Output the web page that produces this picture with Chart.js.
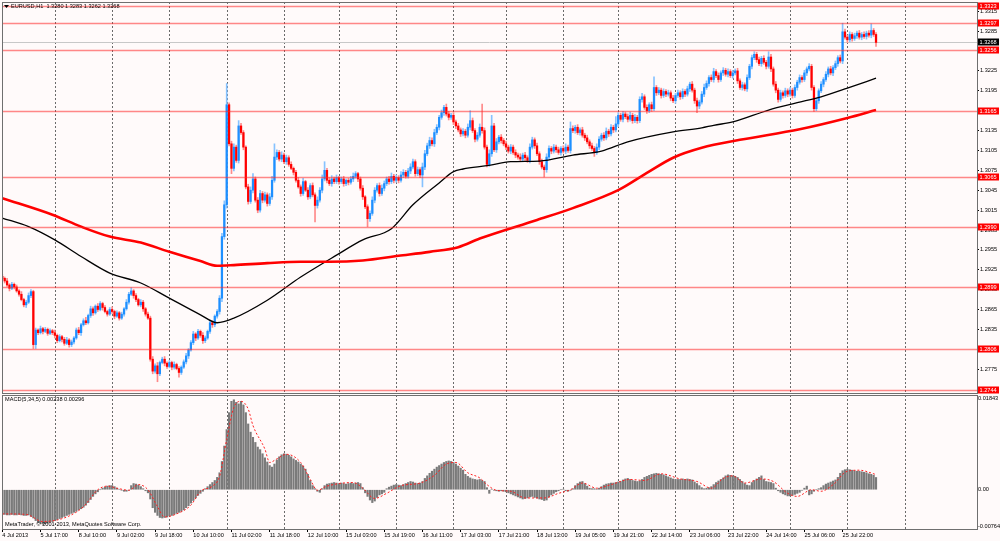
<!DOCTYPE html>
<html>
<head>
<meta charset="utf-8">
<title>EURUSD,H1</title>
<script src="https://cdn.jsdelivr.net/npm/chart.js@4.4.0/dist/chart.umd.min.js"></script>
<style>
  html, body { margin: 0; padding: 0; background: #fffafa; }
  #wrap { position: relative; width: 1000px; height: 541px; overflow: hidden; background: #fffafa; }
  #priceBox { position: absolute; left: 0; top: 0; width: 1000px; height: 394px; }
  #macdBox { position: absolute; left: 0; top: 393px; width: 1000px; height: 148px; }
</style>
</head>
<body>
<div id="wrap">
  <div id="priceBox"><canvas id="price" width="1000" height="394"></canvas></div>
  <div id="macdBox"><canvas id="macd" width="1000" height="148"></canvas></div>
</div>
<script>
// ---- data (H1 bars, 4 Jul - 26 Jul 2013) ----
const firstOpen = 1.2915;
const closes = [
  1.2912,1.2908,1.2902,1.2897,1.2903,1.2899,1.2893,1.2888,1.2880,1.2872,
  1.2876,1.2886,1.2892,1.2812,1.2834,1.2830,1.2836,1.2832,1.2835,1.2829,
  1.2833,1.2830,1.2826,1.2818,1.2824,1.2820,1.2814,1.2819,1.2812,1.2816,
  1.2822,1.2834,1.2830,1.2842,1.2848,1.2845,1.2856,1.2866,1.2860,1.2870,
  1.2865,1.2874,1.2868,1.2862,1.2858,1.2865,1.2862,1.2855,1.2860,1.2852,
  1.2858,1.2866,1.2876,1.2888,1.2893,1.2886,1.2880,1.2872,1.2876,1.2866,
  1.2858,1.2852,1.2790,1.2772,1.2780,1.2768,1.2785,1.2790,1.2784,1.2779,
  1.2785,1.2778,1.2782,1.2776,1.2770,1.2778,1.2786,1.2795,1.2804,1.2815,
  1.2828,1.2822,1.2832,1.2826,1.2818,1.2822,1.2832,1.2845,1.2842,1.2855,
  1.2862,1.2882,1.2975,1.3023,1.3174,1.3115,1.3078,1.3110,1.3090,1.3142,
  1.3132,1.3110,1.3050,1.3028,1.3045,1.3062,1.3030,1.3015,1.3040,1.3030,
  1.3038,1.3025,1.3035,1.3060,1.3095,1.3102,1.3092,1.3098,1.3088,1.3094,
  1.3084,1.3078,1.3072,1.3060,1.3050,1.3040,1.3058,1.3045,1.3035,1.3052,
  1.3038,1.3022,1.3030,1.3045,1.3062,1.3075,1.3060,1.3055,1.3062,1.3058,
  1.3064,1.3058,1.3062,1.3055,1.3060,1.3057,1.3062,1.3066,1.3070,1.3062,
  1.3048,1.3035,1.3020,1.3002,1.3010,1.3030,1.3045,1.3052,1.3040,1.3048,
  1.3055,1.3062,1.3058,1.3066,1.3060,1.3064,1.3060,1.3068,1.3072,1.3066,
  1.3074,1.3080,1.3088,1.3070,1.3076,1.3068,1.3080,1.3100,1.3112,1.3120,
  1.3115,1.3132,1.3140,1.3155,1.3162,1.3170,1.3160,1.3155,1.3158,1.3148,
  1.3142,1.3136,1.3130,1.3134,1.3128,1.3140,1.3150,1.3135,1.3122,1.3128,
  1.3140,1.3135,1.3110,1.3084,1.3100,1.3142,1.3106,1.3118,1.3125,1.3120,
  1.3115,1.3110,1.3104,1.3110,1.3102,1.3098,1.3095,1.3092,1.3098,1.3094,
  1.3090,1.3110,1.3121,1.3112,1.3100,1.3088,1.3080,1.3076,1.3095,1.3108,
  1.3104,1.3110,1.3106,1.3102,1.3108,1.3104,1.3110,1.3105,1.3138,1.3135,
  1.3140,1.3132,1.3136,1.3128,1.3124,1.3118,1.3112,1.3108,1.3102,1.3110,
  1.3122,1.3128,1.3124,1.3134,1.3130,1.3140,1.3136,1.3145,1.3158,1.3152,
  1.3160,1.3156,1.3152,1.3158,1.3150,1.3155,1.3150,1.3182,1.3186,1.3170,
  1.3165,1.3174,1.3168,1.3200,1.3192,1.3196,1.3188,1.3194,1.3190,1.3192,
  1.3184,1.3180,1.3188,1.3192,1.3186,1.3194,1.3190,1.3198,1.3205,1.3196,
  1.3180,1.3172,1.3178,1.3190,1.3200,1.3206,1.3215,1.3212,1.3224,1.3218,
  1.3212,1.3222,1.3226,1.3220,1.3224,1.3218,1.3222,1.3225,1.3210,1.3200,
  1.3204,1.3198,1.3215,1.3232,1.3245,1.3250,1.3242,1.3236,1.3244,1.3238,
  1.3232,1.3246,1.3228,1.3205,1.3196,1.3182,1.3192,1.3188,1.3195,1.3190,
  1.3196,1.3188,1.3200,1.3208,1.3215,1.3212,1.3222,1.3228,1.3232,1.3200,
  1.3168,1.3180,1.3195,1.3205,1.3212,1.3220,1.3228,1.3222,1.3230,1.3236,
  1.3245,1.3240,1.3284,1.3276,1.3272,1.3280,1.3274,1.3278,1.3282,1.3276,
  1.3280,1.3277,1.3282,1.3279,1.3286,1.3280,1.3268
];
// wick lengths above / below the body, in pips
const wickUp = [
  3,2,4,2,3,2,3,2,4,2, 3,4,3,2,3,2,4,2,3,2, 3,2,4,2,3,2,3,4,2,3, 2,3,4,2,3,5,2,4,3,2,
  4,3,2,3,2,3,4,2,3,2, 3,2,4,3,5,2,3,2,4,3, 2,3,3,4,3,5,2,3,4,2, 3,2,4,2,3,2,3,4,2,3,
  4,2,3,2,4,3,2,4,3,2, 3,4,5,6,32,3,4,5,3,8, 4,3,2,4,5,8,3,4,5,3, 4,3,5,6,20,4,3,5,3,4,
  3,4,2,3,4,3,5,2,4,3, 4,3,5,4,6,13,3,4,5,3, 4,2,3,4,2,3,4,5,3,2, 3,4,2,3,4,5,4,3,4,5,
  4,3,4,5,3,4,3,5,4,3, 4,5,4,3,4,3,6,5,4,5, 4,5,4,3,4,3,5,4,3,4, 3,4,3,4,3,5,15,4,3,4,
  5,35,4,3,6,16,4,5,3,4, 3,4,3,4,3,4,3,5,3,4, 3,5,4,3,4,3,4,3,5,4, 3,4,3,4,3,4,5,3,10,4,
  3,4,3,4,3,4,3,4,3,5, 4,3,4,5,3,4,3,11,4,3, 4,3,4,5,3,4,3,4,5,3, 4,3,4,16,3,4,3,4,3,4,
  3,4,3,4,3,4,3,4,3,4, 3,4,3,4,5,4,3,4,5,3, 4,3,4,3,4,3,4,3,4,3, 4,3,4,3,4,4,3,4,3,4,
  3,8,4,3,4,3,4,3,4,3, 4,3,4,3,4,3,4,3,4,3, 3,4,3,4,3,4,3,4,3,4, 3,4,13,4,3,4,3,4,3,4,
  3,4,3,4,10,3,3
];
const wickDn = [
  2,3,2,4,2,3,2,3,2,3, 4,2,3,6,6,3,2,4,2,3, 2,3,4,3,2,4,3,2,4,3, 3,2,3,4,2,3,2,3,4,2,
  3,2,4,2,3,2,3,4,2,3, 2,3,2,3,2,4,3,2,3,4, 3,2,3,4,3,12,3,2,4,3, 2,4,3,2,7,3,2,3,4,2,
  3,4,2,3,4,3,2,3,4,3, 3,4,5,4,5,3,8,4,3,4, 3,4,3,4,3,4,3,4,3,4, 3,4,3,4,3,4,3,4,3,4,
  3,2,4,3,2,4,3,2,4,3, 3,25,4,3,4,3,4,3,4,3, 3,4,3,4,3,4,3,4,3,4, 3,4,3,12,4,3,4,3,4,3,
  4,3,4,3,4,3,4,3,4,3, 3,4,3,4,3,4,18,4,3,4, 3,4,3,4,3,4,3,4,3,4, 4,3,4,3,4,3,4,3,4,3,
  3,4,3,4,3,4,3,4,3,4, 3,4,3,4,3,4,3,4,3,4, 3,4,3,4,3,4,3,11,4,3, 4,3,4,3,4,3,4,3,4,3,
  4,3,4,3,4,3,4,3,6,3, 4,3,4,3,4,3,4,3,4,3, 4,3,4,3,4,3,4,3,4,3, 4,3,4,3,4,3,4,3,4,3,
  4,3,4,3,4,3,4,3,4,3, 4,10,4,3,4,3,4,3,4,3, 4,3,4,3,4,3,4,3,4,3, 4,3,4,3,4,3,4,3,4,3,
  4,3,4,3,4,4,3,4,3,4, 3,4,3,4,3,4,3,4,3,4, 4,3,4,3,4,3,4,3,4,3, 4,3,4,3,4,3,4,3,4,3,
  4,3,4,3,4,3,6
];

// moving averages (bar index, price)
const maFastBars   = [0, 11, 22, 33, 45, 58, 69, 83, 90, 97, 111, 125, 140, 151, 163, 172, 183, 189, 193, 203, 213, 225, 239, 251, 262, 281, 293, 298, 306, 321, 333, 343, 354, 366];
const maFastValues = [1.3003, 1.2990, 1.2970, 1.2945, 1.2920, 1.2905, 1.2884, 1.2857, 1.2845, 1.2852, 1.2879, 1.2914, 1.2947, 1.2970, 1.2987, 1.3023, 1.3056, 1.3073, 1.3077, 1.3082, 1.3088, 1.3089, 1.3098, 1.3104, 1.3118, 1.3133, 1.3139, 1.3143, 1.3148, 1.3166, 1.3177, 1.3186, 1.3199, 1.3214];
const maSlowBars   = [0, 21, 33, 45, 58, 70, 83, 90, 97, 111, 125, 137, 151, 166, 179, 191, 200, 224, 239, 258, 270, 281, 293, 309, 334, 354, 366];
const maSlowValues = [1.3033, 1.3008, 1.2990, 1.2975, 1.2966, 1.2952, 1.2938, 1.2931, 1.2932, 1.2935, 1.2937, 1.2937, 1.2939, 1.2946, 1.2952, 1.2959, 1.2972, 1.3000, 1.3018, 1.3045, 1.3071, 1.3094, 1.3109, 1.3121, 1.3137, 1.3154, 1.3166];

// MACD(5,34,5) main histogram, one value per bar
const macd = [
  -0.0048,-0.0048,-0.0049,-0.0049,-0.0048,-0.0049,-0.0049,-0.0048,-0.0049,-0.0050,
  -0.0050,-0.0049,-0.0052,-0.0055,-0.0060,-0.0064,-0.0066,-0.0067,-0.0066,-0.0065,
  -0.0063,-0.0062,-0.0060,-0.0058,-0.0056,-0.0054,-0.0052,-0.0050,-0.0048,-0.0046,
  -0.0044,-0.0042,-0.0039,-0.0037,-0.0034,-0.0030,-0.0025,-0.0019,-0.0013,-0.0008,
  -0.0004,0.0000,0.0003,0.0005,0.0007,0.0008,0.0008,0.0006,0.0003,0.0001,
  -0.0001,-0.0003,-0.0003,-0.0001,0.0008,0.0012,0.0011,0.0009,0.0006,0.0002,
  -0.0002,-0.0006,-0.0018,-0.0035,-0.0044,-0.0050,-0.0054,-0.0055,-0.0054,-0.0053,
  -0.0051,-0.0050,-0.0048,-0.0046,-0.0044,-0.0042,-0.0039,-0.0035,-0.0031,-0.0026,
  -0.0021,-0.0016,-0.0011,-0.0007,-0.0003,0.0002,0.0006,0.0010,0.0014,0.0018,
  0.0024,0.0033,0.0055,0.0085,0.0117,0.0150,0.0172,0.0175,0.0170,0.0167,
  0.0172,0.0165,0.0150,0.0128,0.0112,0.0102,0.0092,0.0083,0.0078,0.0070,
  0.0062,0.0054,0.0047,0.0044,0.0050,0.0058,0.0064,0.0068,0.0070,0.0069,
  0.0067,0.0064,0.0060,0.0057,0.0054,0.0050,0.0046,0.0040,0.0030,0.0018,
  0.0008,0.0002,-0.0003,-0.0005,0.0002,0.0008,0.0011,0.0012,0.0013,0.0014,
  0.0013,0.0012,0.0013,0.0012,0.0011,0.0012,0.0013,0.0012,0.0013,0.0014,
  0.0012,0.0004,-0.0006,-0.0013,-0.0020,-0.0025,-0.0022,-0.0015,-0.0010,-0.0008,
  -0.0005,0.0002,0.0005,0.0007,0.0009,0.0010,0.0009,0.0008,0.0010,0.0012,
  0.0014,0.0016,0.0015,0.0013,0.0012,0.0013,0.0016,0.0022,0.0027,0.0032,
  0.0036,0.0040,0.0044,0.0047,0.0050,0.0053,0.0055,0.0056,0.0055,0.0053,
  0.0050,0.0046,0.0042,0.0038,0.0030,0.0026,0.0023,0.0021,0.0020,0.0019,
  0.0020,0.0018,0.0016,0.0004,-0.0007,0.0001,-0.0001,-0.0002,-0.0003,-0.0002,
  -0.0003,-0.0004,-0.0006,-0.0008,-0.0010,-0.0012,-0.0014,-0.0016,-0.0018,-0.0017,
  -0.0016,-0.0014,-0.0013,-0.0015,-0.0016,-0.0018,-0.0019,-0.0021,-0.0020,-0.0014,
  -0.0010,-0.0007,-0.0004,-0.0002,0.0000,0.0001,-0.0002,-0.0003,-0.0001,0.0002,
  0.0008,0.0012,0.0015,0.0016,0.0012,0.0007,0.0003,0.0002,0.0002,0.0001,
  0.0003,0.0006,0.0009,0.0011,0.0012,0.0013,0.0013,0.0014,0.0015,0.0016,
  0.0019,0.0021,0.0022,0.0020,0.0018,0.0017,0.0016,0.0017,0.0020,0.0024,
  0.0026,0.0028,0.0030,0.0031,0.0032,0.0031,0.0030,0.0029,0.0027,0.0025,
  0.0023,0.0021,0.0020,0.0020,0.0020,0.0021,0.0020,0.0021,0.0020,0.0019,
  0.0015,0.0012,0.0008,0.0004,0.0002,0.0003,0.0004,0.0006,0.0010,0.0014,
  0.0017,0.0020,0.0023,0.0027,0.0029,0.0028,0.0027,0.0026,0.0024,0.0020,
  0.0016,0.0012,0.0009,0.0008,0.0014,0.0018,0.0021,0.0024,0.0027,0.0020,
  0.0016,0.0015,0.0014,0.0012,0.0003,-0.0002,-0.0005,-0.0008,-0.0010,-0.0012,
  -0.0012,-0.0011,-0.0009,-0.0007,-0.0005,-0.0001,0.0003,0.0007,-0.0010,-0.0008,
  -0.0003,0.0000,0.0002,0.0004,0.0008,0.0011,0.0013,0.0015,0.0017,0.0019,
  0.0024,0.0032,0.0037,0.0039,0.0040,0.0039,0.0038,0.0037,0.0036,0.0036,
  0.0035,0.0034,0.0033,0.0031,0.0030,0.0028,0.00238
];
// MACD signal line (bar index, value)
const sigBars = [0, 10, 17, 27, 34, 40, 44, 48, 53, 57, 61, 65, 68, 73, 79, 83, 88, 91, 94, 97, 100, 103, 105, 110, 112, 115, 119, 125, 129, 132, 136, 147, 151, 156, 161, 167, 175, 181, 186, 190, 195, 200, 203, 207, 213, 219, 227, 233, 238, 243, 249, 255, 263, 269, 276, 284, 291, 297, 302, 306, 311, 318, 323, 329, 333, 339, 343, 348, 354, 359, 366];
const sigValues = [-0.0047, -0.0048, -0.0062, -0.0053, -0.0033, 0.0000, 0.0007, 0.0003, -0.0001, 0.0010, 0.0000, -0.0033, -0.0053, -0.0047, -0.0030, -0.0003, 0.0007, 0.0026, 0.0098, 0.0160, 0.0172, 0.0157, 0.0125, 0.0079, 0.0053, 0.0060, 0.0069, 0.0053, 0.0020, -0.0001, 0.0007, 0.0014, 0.0003, -0.0017, -0.0007, 0.0008, 0.0013, 0.0028, 0.0050, 0.0053, 0.0033, 0.0023, 0.0010, -0.0001, -0.0003, -0.0016, -0.0016, -0.0007, 0.0000, 0.0013, 0.0003, 0.0010, 0.0020, 0.0018, 0.0031, 0.0021, 0.0016, 0.0003, 0.0022, 0.0027, 0.0013, 0.0021, 0.0016, -0.0007, -0.0013, 0.0000, -0.0003, 0.0010, 0.0036, 0.0038, 0.00296];

// horizontal levels, current price, axis ticks
const levels = [1.3323, 1.3297, 1.3256, 1.3165, 1.3065, 1.2990, 1.2899, 1.2806, 1.2744];
const lastPrice = 1.3268;
const priceTicks = [1.2745, 1.2775, 1.2805, 1.2835, 1.2865, 1.2895, 1.2925, 1.2955, 1.2985, 1.3015, 1.3045, 1.3075, 1.3105, 1.3135, 1.3165, 1.3195, 1.3225, 1.3255, 1.3285, 1.3315];
const macdTicks = [-0.00764, 0, 0.01843];
const macdTickText = ['-0.00764', '0.00', '0.01843'];
const xLabels = ['4 Jul 2013', '5 Jul 17:00', '8 Jul 10:00', '9 Jul 02:00', '9 Jul 18:00', '10 Jul 10:00', '11 Jul 02:00', '11 Jul 18:00', '12 Jul 10:00', '15 Jul 03:00', '15 Jul 19:00', '16 Jul 11:00', '17 Jul 03:00', '17 Jul 21:00', '18 Jul 13:00', '19 Jul 05:00', '19 Jul 21:00', '22 Jul 14:00', '23 Jul 06:00', '23 Jul 22:00', '24 Jul 14:00', '25 Jul 06:00', '25 Jul 22:00'];
const labelStep = 16;   // bars between time labels
const dayBars = [0, 22, 46, 70, 94, 118, 141, 165, 189, 211, 235, 258, 282, 306, 330, 354, 378];

// ---- layout ----
const X_MIN = -0.13, X_MAX = 408.3;
const FONT = '"Liberation Sans", Arial, sans-serif';
const FS = 5.6;
Chart.defaults.font.family = FONT;
Chart.defaults.font.size = FS;
Chart.defaults.color = '#000';

const opens = closes.map((c, i) => i === 0 ? firstOpen : closes[i - 1]);
const highs = closes.map((c, i) => Math.max(opens[i], c) + (wickUp[i] || 0) / 10000);
const lows = closes.map((c, i) => Math.min(opens[i], c) - (wickDn[i] || 0) / 10000);
const isUp = closes.map((c, i) => c >= opens[i]);

function pts(xs, ys) {
    return xs.map((x, i) => ({x: x, y: ys[i]}));
}

const dayGrid = {
    id: 'dayGrid',
    beforeDatasetsDraw(chart) {
        const ctx = chart.ctx, a = chart.chartArea, x = chart.scales.x;
        ctx.save();
        ctx.strokeStyle = '#6a6a6a';
        ctx.lineWidth = 1;
        ctx.setLineDash([2, 2]);
        dayBars.forEach(b => {
            const px = Math.round(x.getPixelForValue(b)) + 0.5;
            if (px < a.left || px > a.right) return;
            ctx.beginPath();
            ctx.moveTo(px, a.top);
            ctx.lineTo(px, a.bottom);
            ctx.stroke();
        });
        ctx.restore();
    },
    afterDraw(chart) {
        const ctx = chart.ctx, a = chart.chartArea;
        ctx.save();
        ctx.strokeStyle = '#6f6f6f';
        ctx.lineWidth = 1;
        ctx.strokeRect(Math.round(a.left) + 0.5, Math.round(a.top) + 0.5, Math.round(a.right - a.left), Math.round(a.bottom - a.top));
        ctx.restore();
    }
};

function priceBox(ctx, y, text, fill) {
    ctx.fillStyle = fill;
    ctx.fillRect(978, Math.round(y) - 3.5, 21, 7);
    ctx.fillStyle = '#fff';
    ctx.font = FS + 'px ' + FONT;
    ctx.textAlign = 'left';
    ctx.textBaseline = 'middle';
    ctx.fillText(text, 979.5, Math.round(y) + 0.5);
}

const priceDecor = {
    id: 'priceDecor',
    beforeDatasetsDraw(chart) {
        const ctx = chart.ctx, a = chart.chartArea, y = chart.scales.y;
        const py = Math.round(y.getPixelForValue(lastPrice)) + 0.5;
        ctx.save();
        ctx.strokeStyle = '#c8c8c8';
        ctx.lineWidth = 1;
        ctx.beginPath();
        ctx.moveTo(a.left, py);
        ctx.lineTo(a.right, py);
        ctx.stroke();
        ctx.restore();
    },
    afterDatasetsDraw(chart) {
        const ctx = chart.ctx, a = chart.chartArea, y = chart.scales.y;
        ctx.save();
        ctx.strokeStyle = 'rgba(255,40,40,0.55)';
        ctx.lineWidth = 1.6;
        levels.forEach(v => {
            const py = Math.round(y.getPixelForValue(v)) + 0.5;
            ctx.beginPath();
            ctx.moveTo(a.left, py);
            ctx.lineTo(a.right, py);
            ctx.stroke();
        });
        levels.forEach(v => priceBox(ctx, y.getPixelForValue(v), v.toFixed(4), '#ff0000'));
        priceBox(ctx, y.getPixelForValue(lastPrice), lastPrice.toFixed(4), '#000');

        // symbol header
        ctx.fillStyle = '#000';
        ctx.beginPath();
        ctx.moveTo(4, 5);
        ctx.lineTo(9, 5);
        ctx.lineTo(6.5, 8);
        ctx.closePath();
        ctx.fill();
        ctx.font = FS + 'px ' + FONT;
        ctx.textAlign = 'left';
        ctx.textBaseline = 'middle';
        ctx.fillText('EURUSD,H1  1.3280 1.3283 1.3262 1.3268', 11, 6.5);
        ctx.restore();
    }
};

const macdDecor = {
    id: 'macdDecor',
    afterDatasetsDraw(chart) {
        const ctx = chart.ctx, a = chart.chartArea, y = chart.scales.y;
        ctx.save();
        ctx.fillStyle = '#000';
        ctx.font = FS + 'px ' + FONT;
        ctx.textAlign = 'left';
        ctx.textBaseline = 'middle';
        ctx.fillText('MACD(5,34,5) 0.00238 0.00296', 5, a.top + 4.5);
        ctx.fillText('MetaTrader, \u00a9 2001-2013, MetaQuotes Software Corp.', 5, a.bottom - 5);
        // right scale labels, kept inside the panel like the terminal does
        macdTicks.forEach((v, k) => {
            let py = y.getPixelForValue(v);
            py = Math.min(Math.max(py, a.top + 3), a.bottom - 2.5);
            ctx.fillText(macdTickText[k], 978, py);
        });
        ctx.restore();
    }
};

new Chart(document.getElementById('price'), {
    type: 'bar',
    data: {
        datasets: [
            {
                type: 'line', label: 'MA slow', data: pts(maSlowBars, maSlowValues),
                borderColor: '#ff0000', borderWidth: 2.6, pointRadius: 0,
                cubicInterpolationMode: 'monotone', order: 0
            },
            {
                type: 'line', label: 'MA fast', data: pts(maFastBars, maFastValues),
                borderColor: '#000000', borderWidth: 1.3, pointRadius: 0,
                cubicInterpolationMode: 'monotone', order: 0
            },
            {
                label: 'body', data: closes.map((c, i) => ({x: i, y: [opens[i], c]})),
                backgroundColor: isUp.map(u => u ? '#1e8fff' : '#ff0000'),
                barThickness: 1.6, minBarLength: 1, grouped: false, order: 1
            },
            {
                label: 'wick', data: closes.map((c, i) => ({x: i, y: [lows[i], highs[i]]})),
                backgroundColor: isUp.map(u => u ? '#86c2ff' : '#ff8a8a'),
                barThickness: 1, grouped: false, order: 2
            }
        ]
    },
    options: {
        responsive: false,
        animation: false,
        events: [],
        layout: {padding: {left: 2, top: 2, right: 0, bottom: 1}},
        plugins: {legend: {display: false}, tooltip: {enabled: false}},
        scales: {
            x: {type: 'linear', min: X_MIN, max: X_MAX, display: false, offset: false},
            y: {
                type: 'linear', position: 'right', min: 1.2739, max: 1.3329,
                afterBuildTicks: s => { s.ticks = priceTicks.map(v => ({value: v})); },
                afterFit: s => { s.width = 23; s.paddingTop = 0; s.paddingBottom = 0; },
                grid: {drawOnChartArea: false, tickLength: 2, color: '#000'},
                border: {display: false},
                ticks: {autoSkip: false, padding: 1, color: '#000', callback: v => v.toFixed(4)}
            }
        }
    },
    plugins: [dayGrid, priceDecor]
});

new Chart(document.getElementById('macd'), {
    type: 'bar',
    data: {
        datasets: [
            {
                type: 'line', label: 'Signal', data: pts(sigBars, sigValues),
                borderColor: '#ff2020', borderWidth: 1, borderDash: [2, 2], pointRadius: 0,
                cubicInterpolationMode: 'monotone', order: 0
            },
            {
                label: 'MACD', data: macd.map((v, i) => ({x: i, y: v})),
                backgroundColor: '#7a7a7a', barThickness: 1.5, grouped: false, order: 1
            }
        ]
    },
    options: {
        responsive: false,
        animation: false,
        events: [],
        layout: {padding: {left: 2, top: 2, right: 0, bottom: 0}},
        plugins: {legend: {display: false}, tooltip: {enabled: false}},
        scales: {
            x: {
                type: 'linear', min: X_MIN, max: X_MAX, offset: false, position: 'bottom',
                afterBuildTicks: s => { s.ticks = xLabels.map((t, k) => ({value: k * labelStep})); },
                afterFit: s => { s.height = 12; s.paddingLeft = 0; s.paddingRight = 0; },
                grid: {drawOnChartArea: false, tickLength: 3, color: '#000', offset: false},
                border: {display: false},
                ticks: {
                    autoSkip: false, maxRotation: 0, minRotation: 0, align: 'start', padding: 0,
                    color: '#000', callback: v => xLabels[Math.round(v / labelStep)]
                }
            },
            y: {
                type: 'linear', position: 'right', min: -0.00764, max: 0.01843,
                afterBuildTicks: s => { s.ticks = macdTicks.map(v => ({value: v})); },
                afterFit: s => { s.width = 23; s.paddingTop = 0; s.paddingBottom = 0; },
                grid: {drawOnChartArea: false, tickLength: 1, color: '#000'},
                border: {display: false},
                ticks: {display: false}
            }
        }
    },
    plugins: [dayGrid, macdDecor]
});
</script>
</body>
</html>
